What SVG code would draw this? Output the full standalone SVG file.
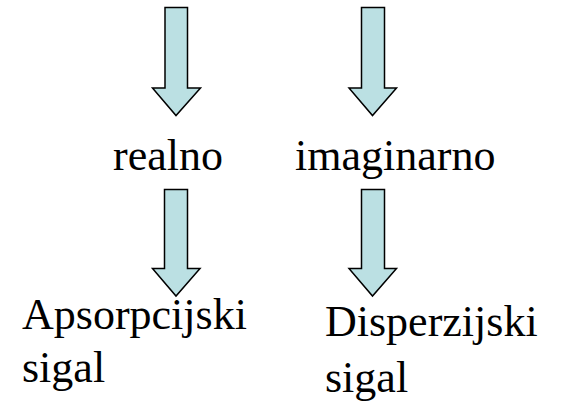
<svg xmlns="http://www.w3.org/2000/svg" width="563" height="405" viewBox="0 0 563 405">
<style>
.arr{fill:#BBE0E3;stroke:#000;stroke-width:1.5;stroke-linejoin:miter}
.t{font-family:"Liberation Serif","Times New Roman",serif;font-size:44px;fill:#000}
</style>
<rect width="563" height="405" fill="#fff"/>
<g id="connectors">
<polygon id="a1" class="arr" points="165,7.5 187.5,7.5 187.5,88 200.5,88 176,115.5 152.5,88 165,88"/>
<polygon id="a2" class="arr" points="361.5,7.5 384.5,7.5 384.5,88 396.5,88 372.5,115.5 349,88 361.5,88"/>
<polygon id="a3" class="arr" points="164.5,189.5 187.5,189.5 187.5,268.5 200,268.5 176,296 152.5,268.5 164.5,268.5"/>
<polygon id="a4" class="arr" points="361.5,189.5 384.5,189.5 384.5,268.5 396.5,268.5 372.5,296 349,268.5 361.5,268.5"/>
</g>
<g id="n-realno"><text class="t" x="113" y="170">realno</text></g>
<g id="n-imaginarno"><text class="t" x="295" y="170">imaginarno</text></g>
<g id="n-apsorpcijski"><text class="t" x="22" y="329">Apsorpcijski</text><text class="t" x="22" y="382">sigal</text></g>
<g id="n-disperzijski"><text class="t" x="325" y="336">Disperzijski</text><text class="t" x="325" y="392">sigal</text></g>
</svg>
